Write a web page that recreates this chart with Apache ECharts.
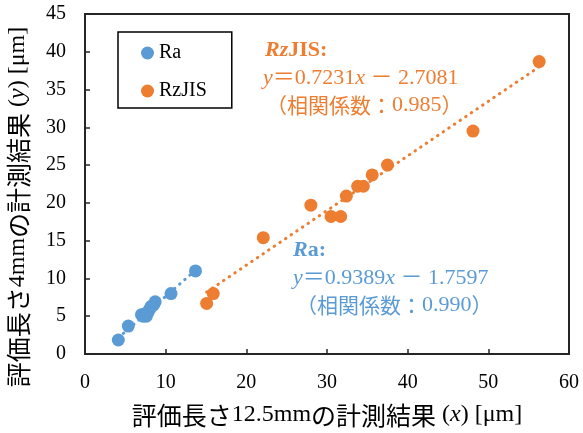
<!DOCTYPE html>
<html><head><meta charset="utf-8">
<script src="https://cdn.jsdelivr.net/npm/echarts@6/dist/echarts.min.js"></script>
<style>html,body{margin:0;padding:0;background:#fff}#c{width:583px;height:433px}</style>
</head><body><div id="c"></div>
<script>
// Data
const raX = [4.13, 5.37, 7.0, 7.2, 7.4, 7.6, 7.8, 8.0, 8.2, 8.5, 8.7, 10.66, 13.7];
const raY = [1.85, 3.7, 5.2, 5.0, 5.3, 5.0, 5.5, 5.9, 6.3, 6.5, 6.9, 8.0, 11.0];
const rzX = [15.08, 15.9, 22.1, 28.0, 30.5, 31.7, 32.4, 33.8, 34.5, 35.6, 37.5, 48.1, 56.3];
const rzY = [6.7, 8.0, 15.4, 19.7, 18.2, 18.2, 20.9, 22.2, 22.2, 23.7, 25.0, 29.5, 38.7];
// trendline end points
const raTrendX = [4.13, 13.7];
const raTrendY = [2.12, 11.1];
const rzTrendX = [15.08, 56.3];
const rzTrendY = [8.2, 38.0];
const seriesNames = ['Ra', 'RzJIS'];
const xRange = [0, 60, 10];
const yRange = [0, 45, 5];
const xTitle = ['評価長さ', '12.5mm', 'の計測結果', ' (', 'x', ') [μm]'];
const yTitle = ['評価長さ', '4mm', 'の計測結果', ' (', 'y', ') [μm]'];
const rzLabel = ['RzJIS:', 'y', '＝0.7231', 'x', ' － 2.7081', '（相関係数：', '0.985', '）'];
const raLabel = ['Ra:', 'y', '＝0.9389', 'x', ' － 1.7597', '（相関係数：', '0.990', '）'];

const BLUE = '#5B9BD5', ORANGE = '#ED7D31';
const SERIF = "'Liberation Serif','Noto Sans CJK JP',serif";
const CJK = "'Noto Sans CJK JP','Liberation Serif',sans-serif";

const zip = (a, b) => a.map((v, i) => [v, b[i]]);

function titleRich(parts) {
  return {
    text: '{c|' + parts[0] + '}{l|' + parts[1] + '}{c|' + parts[2] + '}{l|' + parts[3] + '}{i|' + parts[4] + '}{l|' + parts[5] + '}',
    rich: {
      c: { fontFamily: CJK, fontSize: 25, fill: '#000' },
      l: { fontFamily: SERIF, fontSize: 24, fill: '#000' },
      i: { fontFamily: SERIF, fontSize: 24, fontStyle: 'italic', fill: '#000' }
    }
  };
}
function eqRich(p, col) {
  return {
    text: '{i|' + p[1] + '}{n|' + p[2] + '}{i|' + p[3] + '}{n|' + p[4] + '}',
    rich: {
      i: { fontFamily: SERIF, fontSize: 22, fontStyle: 'italic', fill: col },
      n: { fontFamily: SERIF, fontSize: 22, fill: col }
    }
  };
}
function corrRich(p, col) {
  return {
    text: '{c|' + p[5] + '}{n|' + p[6] + '}{c|' + p[7] + '}',
    rich: {
      c: { fontFamily: CJK, fontSize: 21, fill: col },
      n: { fontFamily: SERIF, fontSize: 22, fill: col }
    }
  };
}
function headRich(txt, italicLen, col) {
  return {
    text: '{a|' + txt.slice(0, italicLen) + '}{b|' + txt.slice(italicLen) + '}',
    rich: {
      a: { fontFamily: SERIF, fontSize: 22, fontStyle: 'italic', fontWeight: 'bold', fill: col },
      b: { fontFamily: SERIF, fontSize: 22, fontWeight: 'bold', fill: col }
    }
  };
}

const chart = echarts.init(document.getElementById('c'), null, { renderer: 'canvas' });
const xt = titleRich(xTitle), yt = titleRich(yTitle);
const dotted = (c) => ({ color: c, width: 3, type: [0.5, 6.3], cap: 'round' });
const mid = (o) => Object.assign({ align: 'left', verticalAlign: 'middle' }, o);

chart.setOption({
  animation: false,
  backgroundColor: '#fff',
  grid: { left: 85, right: 14, top: 14, bottom: 79, show: true, borderColor: '#262626', borderWidth: 2 },
  legend: {
    data: seriesNames,
    orient: 'vertical',
    left: 118, top: 32,
    padding: [11, 25, 7, 23],
    itemGap: 18,
    itemWidth: 13, itemHeight: 13,
    borderColor: '#000', borderWidth: 1.5,
    textStyle: { fontFamily: SERIF, fontSize: 20, color: '#000', lineHeight: 20 }
  },
  xAxis: {
    type: 'value', min: xRange[0], max: xRange[1], interval: xRange[2],
    axisLine: { show: true, lineStyle: { color: '#262626', width: 2 } },
    axisTick: { show: true, inside: true, length: 5, lineStyle: { color: '#262626', width: 1.5 } },
    axisLabel: { fontFamily: SERIF, fontSize: 20, color: '#000', margin: 19 },
    splitLine: { show: false }
  },
  yAxis: {
    type: 'value', min: yRange[0], max: yRange[1], interval: yRange[2],
    axisLine: { show: true, lineStyle: { color: '#262626', width: 2 } },
    axisTick: { show: true, inside: true, length: 5, lineStyle: { color: '#262626', width: 1.5 } },
    axisLabel: { fontFamily: SERIF, fontSize: 20, color: '#000', margin: 19 },
    splitLine: { show: false }
  },
  series: [
    { name: seriesNames[0], type: 'scatter', symbol: 'circle', symbolSize: 13, itemStyle: { color: BLUE, opacity: 1 }, data: zip(raX, raY), z: 3 },
    { name: seriesNames[1], type: 'scatter', symbol: 'circle', symbolSize: 13, itemStyle: { color: ORANGE, opacity: 1 }, data: zip(rzX, rzY), z: 3 },
    { name: 'raTrend', type: 'line', showSymbol: false, symbol: 'none', silent: true, lineStyle: dotted(BLUE), data: zip(raTrendX, raTrendY), z: 4 },
    { name: 'rzTrend', type: 'line', showSymbol: false, symbol: 'none', silent: true, lineStyle: dotted(ORANGE), data: zip(rzTrendX, rzTrendY), z: 4 }
  ],
  graphic: [
    { type: 'text', x: 327, y: 415, style: Object.assign({ align: 'center', verticalAlign: 'middle' }, xt) },
    { type: 'text', x: 18, y: 207, rotation: Math.PI / 2, style: Object.assign({ align: 'center', verticalAlign: 'middle' }, yt) },
    { type: 'text', x: 265, y: 50, style: mid(headRich(rzLabel[0], 2, ORANGE)) },
    { type: 'text', x: 263, y: 78, style: mid(eqRich(rzLabel, ORANGE)) },
    { type: 'text', x: 266, y: 105, style: mid(corrRich(rzLabel, ORANGE)) },
    { type: 'text', x: 293, y: 250, style: mid(headRich(raLabel[0], 1, BLUE)) },
    { type: 'text', x: 293, y: 278, style: mid(eqRich(raLabel, BLUE)) },
    { type: 'text', x: 296, y: 305, style: mid(corrRich(raLabel, BLUE)) }
  ]
});
</script></body></html>
